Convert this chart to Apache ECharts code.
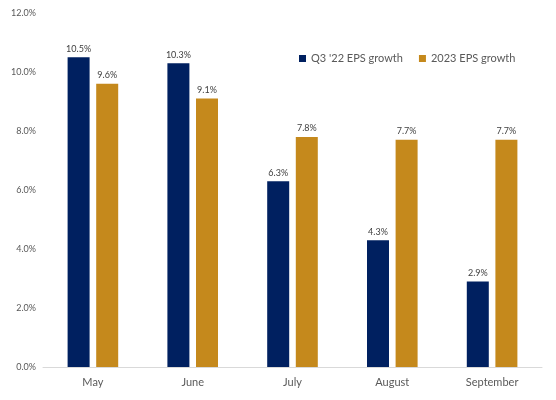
<!DOCTYPE html>
<html><head><meta charset="utf-8">
<script src="https://cdn.jsdelivr.net/npm/echarts@6/dist/echarts.min.js"></script>
<style>html,body{margin:0;padding:0;background:#fff}#c{width:556px;height:400px}</style>
</head><body><div id="c"></div>
<script>
const categories = ['May', 'June', 'July', 'August', 'September'];
const q3Growth = [10.5, 10.3, 6.3, 4.3, 2.9];
const growth2023 = [9.6, 9.1, 7.8, 7.7, 7.7];
const seriesNames = ["Q3 '22 EPS growth", '2023 EPS growth'];

const chart = echarts.init(document.getElementById('c'));
const font = 'Lato, "Open Sans", sans-serif';
const lbl = {show: true, position: 'top', distance: 4, fontSize: 9, color: '#404040', fontFamily: font,
  formatter: p => p.value.toFixed(1) + '%'};
chart.setOption({
  animation: false,
  textStyle: {fontFamily: font},
  grid: {left: 43, right: 14, top: 13, bottom: 33},
  legend: {
    top: 48, left: 294, itemWidth: 7, itemHeight: 7, itemGap: 16, icon: 'rect',
    textStyle: {fontSize: 11, color: '#595959', fontFamily: font}
  },
  xAxis: {
    type: 'category', data: categories,
    axisLine: {lineStyle: {color: '#d9d9d9'}},
    axisTick: {show: false},
    axisLabel: {fontSize: 11, color: '#595959', margin: 10, fontFamily: font}
  },
  yAxis: {
    type: 'value', min: 0, max: 12, interval: 2,
    splitLine: {show: false},
    axisLabel: {fontSize: 9, color: '#595959', margin: 7, formatter: v => v.toFixed(1) + '%', fontFamily: font}
  },
  series: [
    {name: seriesNames[0], type: 'bar', data: q3Growth, barWidth: 22, barGap: '30%',
     itemStyle: {color: '#002060'}, label: lbl},
    {name: seriesNames[1], type: 'bar', data: growth2023, barWidth: 22,
     itemStyle: {color: '#C5891C'}, label: lbl}
  ]
});
</script></body></html>
